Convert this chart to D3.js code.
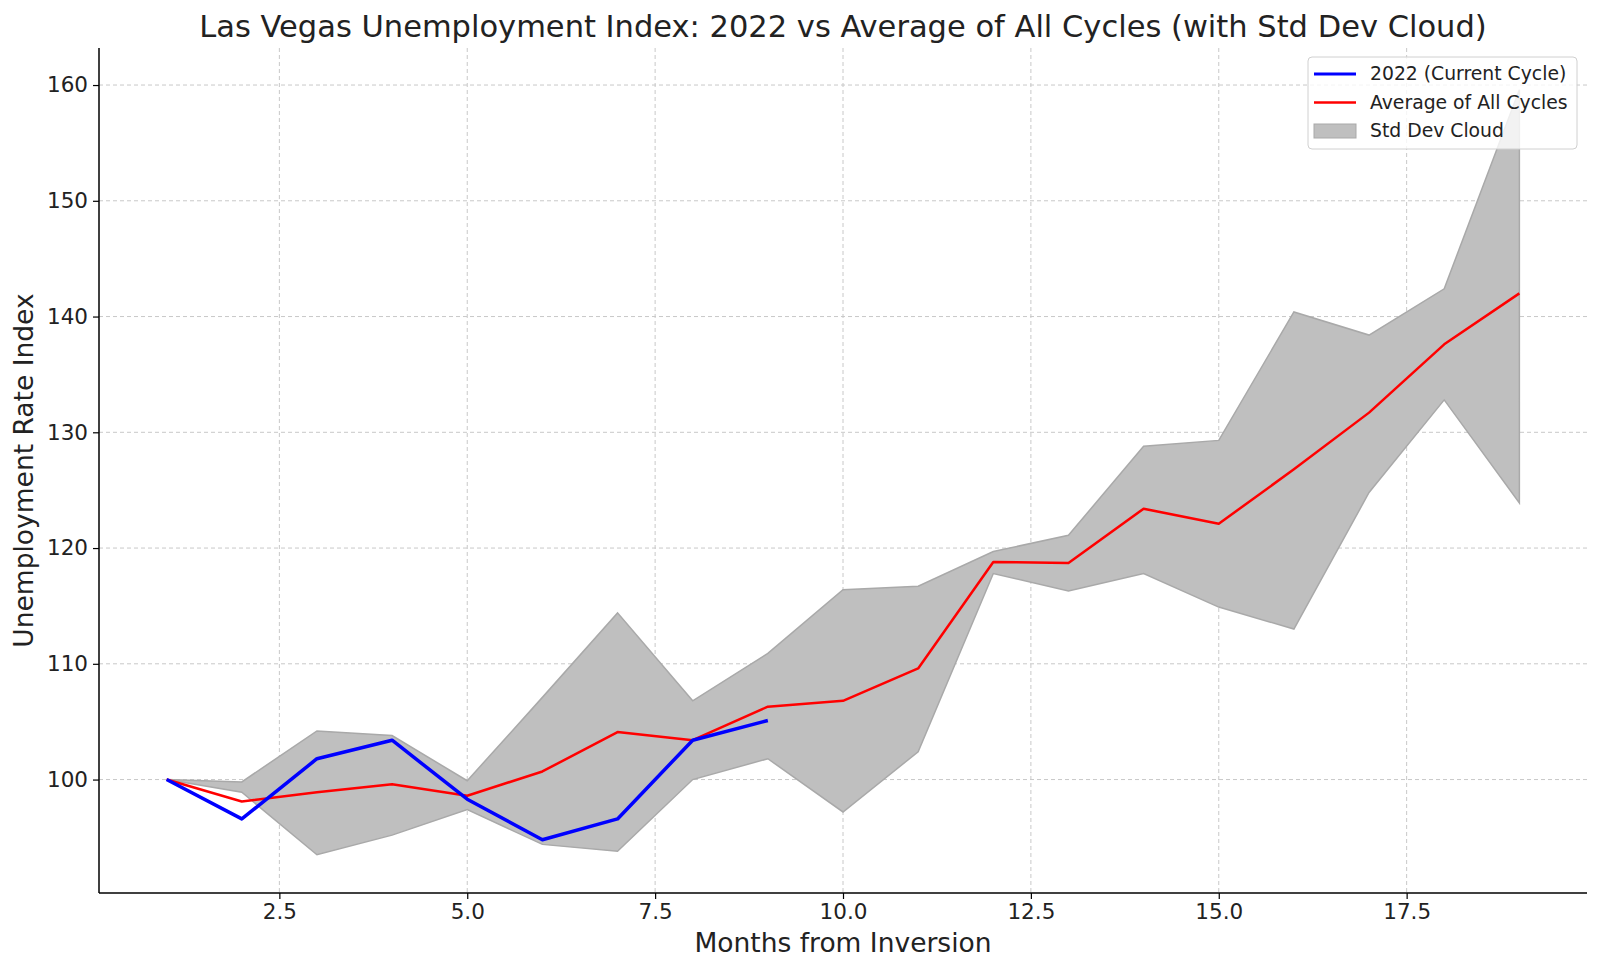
<!DOCTYPE html>
<html><head><meta charset="utf-8">
<script src="https://cdn.jsdelivr.net/npm/d3@7"></script>
<style>body{margin:0;background:#fff;}svg{display:block;font-family:"DejaVu Sans",sans-serif;}</style>
</head><body><svg id="c" width="1600" height="970"></svg>
<script>
const months = [1,2,3,4,5,6,7,8,9,10,11,12,13,14,15,16,17,18,19];
const current2022 = [100,96.6,101.8,103.4,98.3,94.8,96.6,103.4,105.1];
const average = [100,98.1,98.9,99.6,98.6,100.7,104.1,103.4,106.3,106.8,109.6,118.8,118.7,123.4,122.1,126.8,131.7,137.6,142.0];
const upper = [100,99.8,104.2,103.8,99.9,107.1,114.4,106.8,110.9,116.4,116.7,119.7,121.1,128.8,129.3,140.4,138.4,142.4,159.6];
const lower = [100,98.9,93.5,95.2,97.4,94.4,93.8,100.0,101.8,97.2,102.4,117.8,116.3,117.8,114.9,113.0,124.8,132.8,123.9];
const xTicks = [2.5,5.0,7.5,10.0,12.5,15.0,17.5];
const yTicks = [100,110,120,130,140,150,160];
const legendItems = [
  {label:"2022 (Current Cycle)", type:"line", color:"#0000ff", w:3.2},
  {label:"Average of All Cycles", type:"line", color:"#ff0000", w:2.5},
  {label:"Std Dev Cloud", type:"patch", color:"#bfbfbf"}
];

const svg = d3.select("#c");
const L=99, R=1587, T=48, B=893;
const x = d3.scaleLinear().domain([0.1,19.9]).range([L,R]);
const y = d3.scaleLinear().domain([90.2,163.2]).range([B,T]);

// grid
const g = svg.append("g");
g.selectAll(".gx").data(xTicks).enter().append("line")
  .attr("x1",d=>x(d)).attr("x2",d=>x(d)).attr("y1",T).attr("y2",B)
  .attr("stroke","#c8c8c8").attr("stroke-width",1).attr("stroke-dasharray","4,3");
g.selectAll(".gy").data(yTicks).enter().append("line")
  .attr("x1",L).attr("x2",R).attr("y1",d=>y(d)).attr("y2",d=>y(d))
  .attr("stroke","#c8c8c8").attr("stroke-width",1).attr("stroke-dasharray","4,3");

// band
const band = months.map((m,i)=>({m,lo:lower[i],hi:upper[i]}));
svg.append("path").datum(band)
  .attr("d", d3.area().x(d=>x(d.m)).y0(d=>y(d.lo)).y1(d=>y(d.hi)))
  .attr("fill","#bfbfbf").attr("stroke","#a9a9a9").attr("stroke-width",1.5);

// lines
const line = d3.line().x(d=>x(d[0])).y(d=>y(d[1]));
svg.append("path").datum(average.map((v,i)=>[months[i],v]))
  .attr("d",line).attr("fill","none").attr("stroke","#ff0000").attr("stroke-width",2.5).attr("stroke-linejoin","round");
svg.append("path").datum(current2022.map((v,i)=>[months[i],v]))
  .attr("d",line).attr("fill","none").attr("stroke","#0000ff").attr("stroke-width",3.5).attr("stroke-linejoin","round");

// axes
const xa = svg.append("g").attr("transform",`translate(0,${B})`)
  .call(d3.axisBottom(x).tickValues(xTicks).tickFormat(d3.format(".1f")).tickSize(6).tickPadding(5));
const ya = svg.append("g").attr("transform",`translate(${L},0)`)
  .call(d3.axisLeft(y).tickValues(yTicks).tickFormat(d3.format("d")).tickSize(6).tickPadding(5));
[xa,ya].forEach(a=>{
  a.select(".domain").attr("stroke","#000").attr("stroke-width",1.5);
  a.selectAll(".tick line").attr("stroke","#000").attr("stroke-width",1.2);
  a.selectAll(".tick text").attr("font-size",21.5).attr("fill","#222").attr("font-family","DejaVu Sans");
});
xa.select(".domain").attr("d",`M${L},0H${R}`);
ya.select(".domain").attr("d",`M0,${B}V${T}`);

// titles
svg.append("text").attr("x",(L+R)/2).attr("y",37).attr("text-anchor","middle")
  .attr("font-size",30.5).attr("fill","#222").text("Las Vegas Unemployment Index: 2022 vs Average of All Cycles (with Std Dev Cloud)");
svg.append("text").attr("x",(L+R)/2).attr("y",952).attr("text-anchor","middle")
  .attr("font-size",26.5).attr("fill","#222").text("Months from Inversion");
svg.append("text").attr("transform",`translate(33,${(T+B)/2}) rotate(-90)`).attr("text-anchor","middle")
  .attr("font-size",26.5).attr("fill","#222").text("Unemployment Rate Index");

// legend
const lg = svg.append("g").attr("transform","translate(1308,57)");
lg.append("rect").attr("width",269).attr("height",92).attr("rx",4)
  .attr("fill","#fff").attr("fill-opacity",0.8).attr("stroke","#d0d0d0").attr("stroke-width",1);
legendItems.forEach((it,i)=>{
  const cy = 17 + i*28.5;
  if(it.type==="line"){
    lg.append("line").attr("x1",6).attr("x2",48).attr("y1",cy).attr("y2",cy)
      .attr("stroke",it.color).attr("stroke-width",it.w);
  } else {
    lg.append("rect").attr("x",6).attr("y",cy-7).attr("width",42).attr("height",14)
      .attr("fill",it.color).attr("stroke","#a9a9a9");
  }
  lg.append("text").attr("x",62).attr("y",cy+6).attr("font-size",18.8).attr("fill","#222").text(it.label);
});
</script></body></html>
